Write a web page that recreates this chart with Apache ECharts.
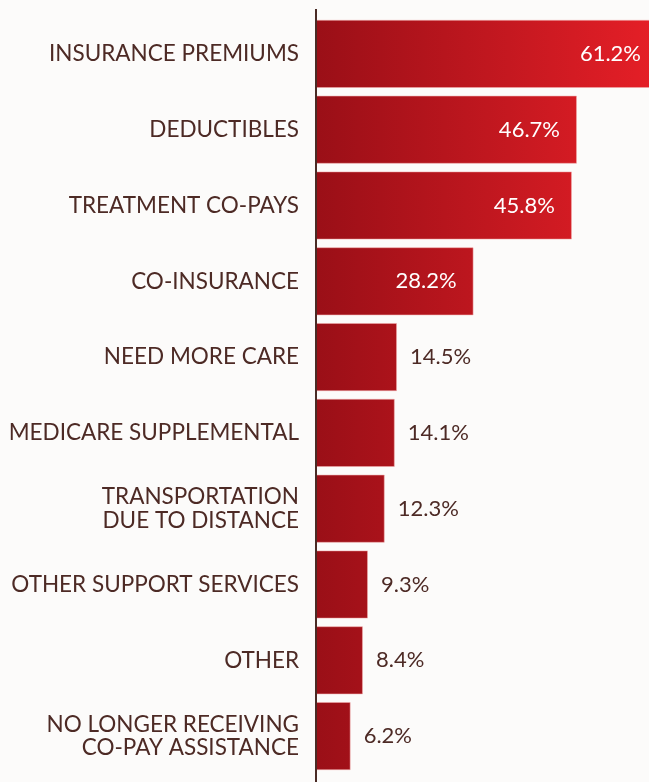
<!DOCTYPE html>
<html>
<head>
<meta charset="utf-8">
<script src="https://cdn.jsdelivr.net/npm/echarts@6/dist/echarts.min.js"></script>
<style>
  html, body { margin: 0; padding: 0; background: #fcfbfa; }
  #chart { width: 649px; height: 782px; }
</style>
</head>
<body>
<div id="chart"></div>
<script>
// Out-of-pocket cost drivers, share of respondents (%)
const categories = [
  'INSURANCE PREMIUMS',
  'DEDUCTIBLES',
  'TREATMENT CO-PAYS',
  'CO-INSURANCE',
  'NEED MORE CARE',
  'MEDICARE SUPPLEMENTAL',
  'TRANSPORTATION\nDUE TO DISTANCE',
  'OTHER SUPPORT SERVICES',
  'OTHER',
  'NO LONGER RECEIVING\nCO-PAY ASSISTANCE'
];
const values = [61.2, 46.7, 45.8, 28.2, 14.5, 14.1, 12.3, 9.3, 8.4, 6.2];

const FONT = 'Lato, "Open Sans", sans-serif';
const TEXT = '#4d2a25';
const GRID_LEFT = 316;
const GRID_WIDTH = 342; // longest bar runs past the right edge of the page

const chart = echarts.init(document.getElementById('chart'));

// Long bars carry their value inside in white, short ones outside in brown
const barData = values.map(v => ({
  value: v,
  label: v > 20
    ? { position: 'insideRight', distance: 17, color: '#ffffff' }
    : { position: 'right', distance: 13, color: TEXT }
}));

chart.setOption({
  backgroundColor: '#fcfbfa',
  animation: false,
  grid: {
    left: GRID_LEFT, width: GRID_WIDTH, top: 16, bottom: 8,
    outerBoundsMode: 'none'
  },
  xAxis: {
    type: 'value',
    min: 0,
    max: 61.2,
    show: false
  },
  yAxis: {
    type: 'category',
    data: categories,
    inverse: true,
    axisLine: { show: false },
    axisTick: { show: false },
    axisLabel: {
      margin: 17,
      color: TEXT,
      fontFamily: FONT,
      fontSize: 22.5,
      lineHeight: 23.5,
      align: 'right'
    }
  },
  series: [{
    type: 'bar',
    data: barData,
    barCategoryGap: '10%',
    clip: false,
    itemStyle: {
      color: new echarts.graphic.LinearGradient(GRID_LEFT, 0, GRID_LEFT + GRID_WIDTH, 0, [
        { offset: 0, color: '#9a0f17' },
        { offset: 1, color: '#e61f27' }
      ], true),
      borderColor: 'rgba(240,170,170,0.55)',
      borderWidth: 1
    },
    label: {
      show: true,
      fontFamily: FONT,
      fontSize: 22,
      formatter: p => p.value.toFixed(1) + '%'
    }
  }],
  graphic: [{
    type: 'line',
    shape: { x1: GRID_LEFT, y1: 9, x2: GRID_LEFT, y2: 782 },
    style: { stroke: '#4a2b25', lineWidth: 2 },
    z: 10
  }]
});
</script>
</body>
</html>
